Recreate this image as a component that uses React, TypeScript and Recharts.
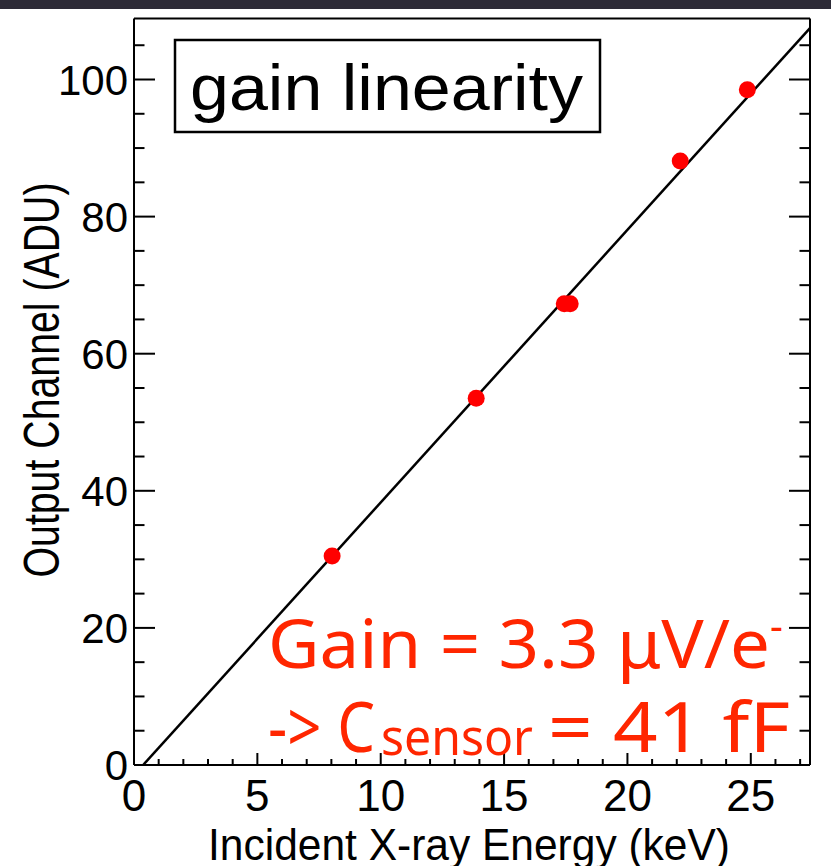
import React from "react";
import { ComposedChart, XAxis, YAxis, Scatter, Line } from "recharts";

// measured points (keV -> ADU)
const energyKeV = [8.03, 13.87, 17.44, 17.68, 22.14, 24.86];
const outputADU = [30.5, 53.5, 67.3, 67.3, 88.1, 98.5];

// linear fit drawn across the frame
const fitEnergy = [0.37, 27.4];
const fitADU = [0, 107.5];

const xTicks = [0, 1, 2, 3, 4, 5, 6, 7, 8, 9, 10, 11, 12, 13, 14, 15, 16, 17, 18, 19, 20, 21, 22, 23, 24, 25, 26, 27];
const yTicks = [0, 5, 10, 15, 20, 25, 30, 35, 40, 45, 50, 55, 60, 65, 70, 75, 80, 85, 90, 95, 100, 105];
const X_MAJOR = 5;
const Y_MAJOR = 20;

const X_DOMAIN = [0, 27.4];
const Y_DOMAIN = [0, 108.9];

const W = 831;
const H = 866;
const RED = "#ff2600";
const NARROW = "'Liberation Sans Narrow', 'Liberation Sans', Arial, sans-serif";
const SANS = "'Liberation Sans', Arial, sans-serif";

const points = energyKeV.map((x, i) => ({ x, y: outputADU[i] }));
const fitLine = fitEnergy.map((x, i) => ({ x, y: fitADU[i] }));

const tickStroke = { stroke: "#000", strokeWidth: 2 };

function BottomTick({ x, y, payload }: any) {
  const v = payload.value;
  const major = v % X_MAJOR === 0;
  return (
    <g>
      <line x1={x} x2={x} y1={y} y2={y - (major ? 12 : 6)} {...tickStroke} />
      {major && (
        <text x={x} y={y + 46} textAnchor="middle" fontFamily={NARROW} fontSize={44} fill="#000">
          {v}
        </text>
      )}
    </g>
  );
}

function TopTick({ x, y, payload }: any) {
  const major = payload.value % X_MAJOR === 0;
  return <line x1={x} x2={x} y1={y} y2={y + (major ? 12 : 6)} {...tickStroke} />;
}

function LeftTick({ x, y, payload }: any) {
  const v = payload.value;
  const major = v % Y_MAJOR === 0;
  return (
    <g>
      <line x1={x} x2={x + (major ? 21 : 10.5)} y1={y} y2={y} {...tickStroke} />
      {major && (
        <text x={x - 6} y={y + 15} textAnchor="end" fontFamily={SANS} fontSize={42} fill="#000">
          {v}
        </text>
      )}
    </g>
  );
}

function RightTick({ x, y, payload }: any) {
  const major = payload.value % Y_MAJOR === 0;
  return <line x1={x} x2={x - (major ? 21 : 10.5)} y1={y} y2={y} {...tickStroke} />;
}

const XTitle = () => (
  <text x={469} y={860} textAnchor="middle" fontFamily={NARROW} fontSize={44} textLength={522} lengthAdjust="spacingAndGlyphs" fill="#000">
    Incident X-ray Energy (keV)
  </text>
);

const YTitle = () => (
  <text
    x={0}
    y={0}
    transform="translate(59,380) rotate(-90)"
    textAnchor="middle"
    fontFamily={NARROW}
    fontSize={50}
    textLength={395}
    lengthAdjust="spacingAndGlyphs"
    fill="#000"
  >
    Output Channel (ADU)
  </text>
);

const axisCommon = {
  type: "number" as const,
  interval: 0,
  allowDataOverflow: true,
  tickSize: 0,
  tickMargin: 0,
  tickLine: false,
  axisLine: tickStroke,
};

export default function App() {
  return (
    <div style={{ position: "fixed", left: 0, top: 0, width: W, height: H, background: "#fff", overflow: "hidden" }}>
      <div style={{ position: "absolute", left: 0, top: 0, width: W, height: 9, background: "#2d2b37" }} />
      <ComposedChart width={W} height={H} margin={{ top: 17.5, right: 20, bottom: 100, left: 133 }}>
        <XAxis
          {...axisCommon}
          xAxisId="b"
          dataKey="x"
          domain={X_DOMAIN}
          ticks={xTicks}
          height={1}
          tick={BottomTick}
          label={{ content: XTitle }}
        />
        <XAxis {...axisCommon} xAxisId="t" orientation="top" domain={X_DOMAIN} ticks={xTicks} height={1} tick={TopTick} />
        <YAxis
          {...axisCommon}
          yAxisId="l"
          dataKey="y"
          domain={Y_DOMAIN}
          ticks={yTicks}
          width={1}
          tick={LeftTick}
          label={{ content: YTitle }}
        />
        <YAxis {...axisCommon} yAxisId="r" orientation="right" domain={Y_DOMAIN} ticks={yTicks} width={1} tick={RightTick} />
        <Scatter
          xAxisId="b"
          yAxisId="l"
          data={points}
          dataKey="y"
          isAnimationActive={false}
          shape={(p: any) => <circle cx={p.cx} cy={p.cy} r={8.5} fill="#ff0000" />}
        />
        <Line
          xAxisId="b"
          yAxisId="l"
          data={fitLine}
          dataKey="y"
          type="linear"
          stroke="#000"
          strokeWidth={2.5}
          dot={false}
          activeDot={false}
          isAnimationActive={false}
        />
      </ComposedChart>
      <svg width={W} height={H} style={{ position: "absolute", left: 0, top: 0, pointerEvents: "none" }}>
        <rect x={175} y={40} width={425} height={92} fill="#fff" stroke="#000" strokeWidth={2.5} />
        <text x={190} y={110} fontFamily={SANS} fontSize={64} textLength={393} lengthAdjust="spacingAndGlyphs" fill="#000">
          gain linearity
        </text>
        <g fill={RED} fontFamily="'Noto Sans', 'Open Sans', sans-serif">
          <text x={268} y={668} fontSize={68} textLength={502} lengthAdjust="spacingAndGlyphs">
            Gain = 3.3 μV/e
          </text>
          <text x={770} y={640} fontSize={40}>-</text>
          <text x={268} y={752} fontSize={70} textLength={107} lengthAdjust="spacingAndGlyphs">
            -&gt; C
          </text>
          <text x={381} y={755} fontSize={50} textLength={152} lengthAdjust="spacingAndGlyphs">
            sensor
          </text>
          <text x={548} y={752} fontSize={70} textLength={242} lengthAdjust="spacingAndGlyphs">
            = 41 fF
          </text>
        </g>
      </svg>
    </div>
  );
}
